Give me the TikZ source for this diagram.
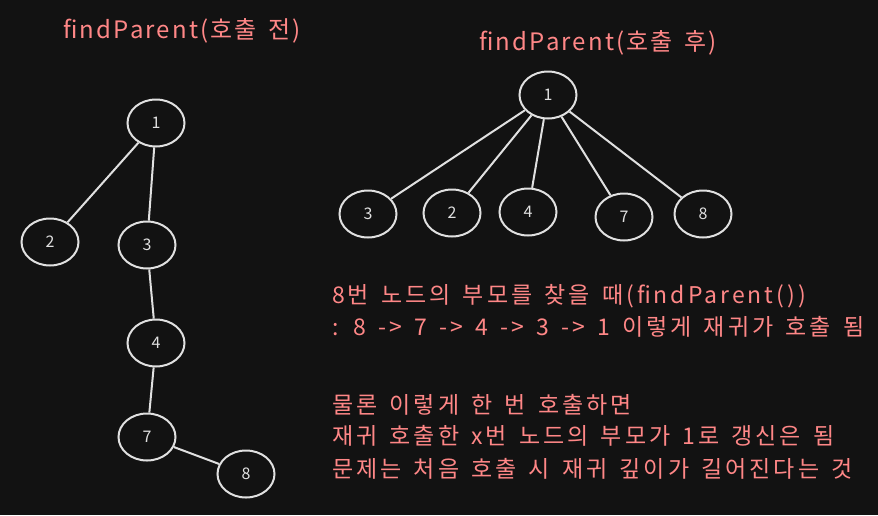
\documentclass[tikz,border=0pt]{standalone}
\usepackage{fontspec}
\setmainfont{Noto Sans CJK KR}
\newfontfamily\spaced{Noto Sans CJK KR}[LetterSpace=13,WordSpace=1.5]
\newfontfamily\spacedt{Noto Sans CJK KR}[LetterSpace=9,WordSpace=1.5]
\usetikzlibrary{shapes.geometric}
\definecolor{bg}{HTML}{121212}
\definecolor{txt}{HTML}{FF8787}
\definecolor{strk}{HTML}{E0E0E0}
\begin{document}
\begin{tikzpicture}[x=1pt,y=-1pt,
  tnode/.style={ellipse,draw=strk,line width=2pt,minimum width=57pt,minimum height=47pt,inner sep=0pt,text=strk,font=\fontsize{16}{16}\selectfont},
  edge/.style={draw=strk,line width=2pt},
  ttl/.style={text=txt,font=\spacedt\fontsize{24}{24}\selectfont,anchor=base,inner sep=0pt},
  para/.style={text=txt,font=\spaced\fontsize{23}{23}\selectfont,anchor=base west,inner sep=0pt}]
\fill[bg] (0,0) rectangle (878,515);
\useasboundingbox (0,0) rectangle (878,515);
% titles
\node[ttl] (t1) at (182,38) {findParent(호출 전)};
\node[ttl] (t2) at (598,50) {findParent(호출 후)};
% left tree
\node[tnode] (a1) at (156,123) {1};
\node[tnode] (a2) at (50,242) {2};
\node[tnode] (a3) at (147,245) {3};
\node[tnode] (a4) at (156,343) {4};
\node[tnode] (a7) at (147,437) {7};
\node[tnode] (a8) at (246,474) {8};
\draw[edge] (a1) -- (a2);
\draw[edge] (a1) -- (a3);
\draw[edge] (a3) -- (a4);
\draw[edge] (a4) -- (a7);
\draw[edge] (a7) -- (a8);
% right tree
\node[tnode] (b1) at (548,95) {1};
\node[tnode] (b3) at (368,214) {3};
\node[tnode] (b2) at (452,213) {2};
\node[tnode] (b4) at (528,212) {4};
\node[tnode] (b7) at (624,217) {7};
\node[tnode] (b8) at (703,214) {8};
\draw[edge] (b1) -- (b3);
\draw[edge] (b1) -- (b2);
\draw[edge] (b1) -- (b4);
\draw[edge] (b1) -- (b7);
\draw[edge] (b1) -- (b8);
% paragraph
\node[para] (p1) at (332,303) {8번 노드의 부모를 찾을 때(findParent())};
\node[para] (p2) at (332,335) {: 8 -> 7 -> 4 -> 3 -> 1 이렇게 재귀가 호출 됨};
\node[para] (p3) at (332,413) {물론 이렇게 한 번 호출하면};
\node[para] (p4) at (332,444) {재귀 호출한 x번 노드의 부모가 1로 갱신은 됨};
\node[para] (p5) at (332,477) {문제는 처음 호출 시 재귀 깊이가 길어진다는 것};
\end{tikzpicture}
\end{document}
